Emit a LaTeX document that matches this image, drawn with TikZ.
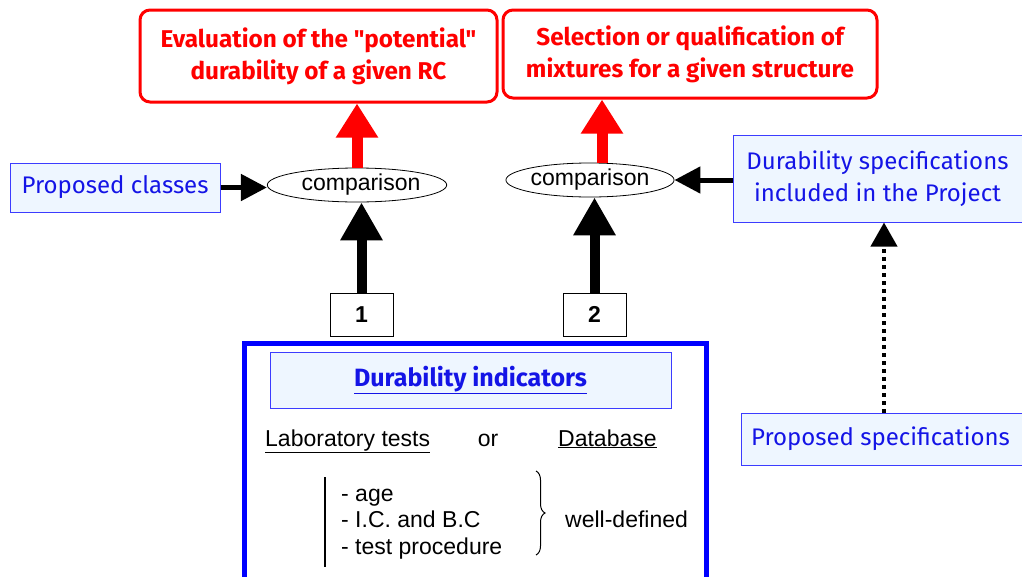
\documentclass[tikz,border=0pt]{standalone}
\usepackage{fontspec}
\setmainfont{Liberation Sans}
\newfontfamily\comic{Fira Sans}
\usetikzlibrary{arrows.meta,shapes.geometric,decorations.pathreplacing}
\definecolor{bluetxt}{HTML}{1414E6}
\definecolor{bluedraw}{HTML}{3C3CFF}
\definecolor{lightfill}{HTML}{EEF6FF}
\definecolor{redc}{HTML}{FF0000}
\tikzset{
  redbox/.style={draw=redc, line width=3pt, rounded corners=10pt, fill=white, align=center,
    text=redc, font=\comic\bfseries\fontsize{24.3}{32}\selectfont, inner sep=0pt},
  bluebox/.style={draw=bluedraw, line width=1pt, fill=lightfill, align=center,
    text=bluetxt, font=\comic\fontsize{24}{32}\selectfont, inner sep=0pt},
  cmp/.style={draw, ellipse, line width=0.8pt, fill=white, inner sep=0pt,
    font=\fontsize{23}{24}\selectfont},
  numbox/.style={draw, line width=1pt, minimum width=63pt, minimum height=43pt,
    inner sep=0pt, font=\bfseries\fontsize{23}{24}\selectfont},
  fatarrow/.style={line width=10pt, -{Triangle[width=40pt,length=38pt]}},
  sidearrow/.style={line width=5pt, -{Triangle[width=26pt,length=26pt]}},
  redarrow/.style={draw=redc, line width=11pt, -{Triangle[width=40pt,length=34pt]}, redc},
  dotarrow/.style={line width=4pt, dash pattern=on 4pt off 4pt, -{Triangle[width=26pt,length=24pt]}},
  plain/.style={font=\fontsize{23}{26}\selectfont, inner sep=0pt}
}
\begin{document}
\begin{tikzpicture}[x=1pt,y=-1pt]
\useasboundingbox (0,0) rectangle (1022,576);
% top red boxes
\node[redbox, minimum width=357pt, minimum height=92pt] (red1) at (318.5,56)
  {Evaluation of the "potential"\\durability of a given RC};
\node[redbox, minimum width=374pt, minimum height=88pt] (red2) at (690,54)
  {Selection or qualification of\\mixtures for a given structure};
% comparisons
\node[cmp, minimum width=165pt, minimum height=34pt] (ell1) at (357,185) {\hspace*{8pt}comparison};
\node[cmp, minimum width=156pt, minimum height=34pt] (ell2) at (590,180) {comparison};
% side blue boxes
\node[bluebox, minimum width=210pt, minimum height=49pt] (pc) at (115,187.5) {Proposed classes};
\node[bluebox, minimum width=300pt, minimum height=87pt, anchor=west] (ds) at (733,178.5)
  {\hspace*{-12pt}Durability specifications\\\hspace*{-12pt}included in the Project};
\node[bluebox, minimum width=290pt, minimum height=52pt, anchor=west] (ps) at (741,439)
  {\hspace*{-12pt}Proposed specifications};
% number boxes
\node[numbox] (n1) at (361.5,314.5) {1};
\node[numbox] (n2) at (594.5,314.5) {2};
% big blue box
\draw[draw=blue, line width=5pt] (244,343) rectangle (706,600);
\node[bluebox, minimum width=401pt, minimum height=56pt, font=\comic\bfseries\fontsize{25}{30}\selectfont] (di) at (470.5,380)
  {\underline{Durability\ indicators}};
\node[plain, anchor=base west] (lab) at (265,446) {\underline{Laboratory tests}};
\node[plain, anchor=base] (or) at (488,446) {or};
\node[plain, anchor=base west] (db) at (558,446) {\underline{Database}};
\draw[line width=1.5pt] (325,477) -- (325,567);
\node[plain, anchor=base west] (l1) at (341,501) {- age};
\node[plain, anchor=base west] (l2) at (341,527) {- I.C. and B.C};
\node[plain, anchor=base west] (l3) at (341,554) {- test procedure};
\draw[line width=1pt, decorate, decoration={brace, amplitude=9pt}] (536,471) -- (536,555);
\node[plain, anchor=base west] (wd) at (565,527) {well-defined};
% arrows
\draw[fatarrow] (n1.north) -- (n1.north |- ell1.south);
\draw[fatarrow] (n2.north) -- (n2.north |- ell2.south);
\draw[sidearrow] (pc.east) -- (ell1.west |- pc.east);
\draw[sidearrow] (ds.west |- ell2.east) -- (ell2.east);
\draw[redarrow] (ell1.north -| 357,0) -- (357,0 |- red1.south);
\draw[redarrow] (602,0 |- ell2.north) -- (602,0 |- red2.south);
\draw[dotarrow] (884,0 |- ps.north) -- (884,0 |- ds.south);
\end{tikzpicture}
\end{document}
